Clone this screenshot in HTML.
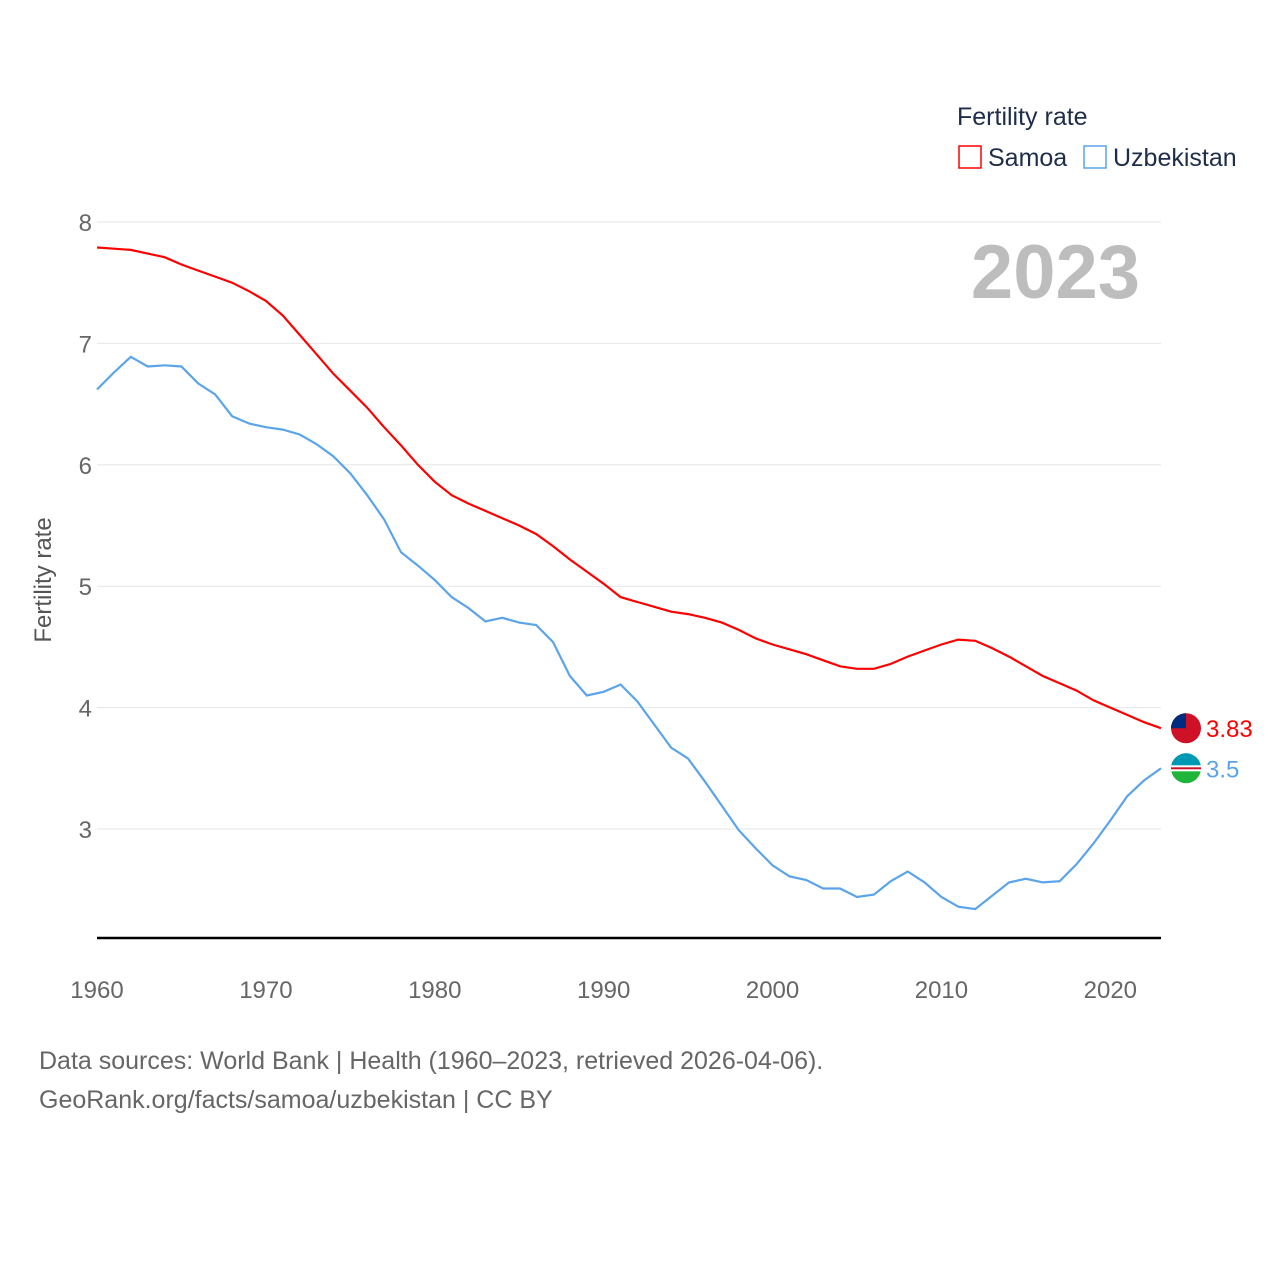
<!DOCTYPE html>
<html><head><meta charset="utf-8"><style>
body{margin:0;background:#fff;font-family:"Liberation Sans",sans-serif;}
svg text{font-family:"Liberation Sans",sans-serif;}
</style></head><body>
<svg id="chart" width="1280" height="1280" viewBox="0 0 1280 1280" xmlns="http://www.w3.org/2000/svg">
<text x="957" y="125" font-size="25" fill="#1e2d4a">Fertility rate</text>
<g><rect x="959" y="146" width="22" height="22" fill="none" stroke="#f00" stroke-width="1.5"/><text x="988" y="166" font-size="25" fill="#1e2d4a">Samoa</text></g>
<g><rect x="1084" y="146" width="22" height="22" fill="none" stroke="#5ba4ea" stroke-width="1.5"/><text x="1113" y="166" font-size="25" fill="#1e2d4a">Uzbekistan</text></g>
<text x="1140" y="298" font-size="76" font-weight="bold" fill="#bdbdbd" text-anchor="end">2023</text>
<text transform="translate(51,580) rotate(-90)" font-size="24" fill="#555" text-anchor="middle">Fertility rate</text>
<g id="grid"></g><g id="lines"></g>
<line x1="97" x2="1161" y1="938" y2="938" stroke="#000" stroke-width="2.5"/>
<text x="39" y="1069" font-size="25" fill="#666">Data sources: World Bank | Health (1960–2023, retrieved 2026-04-06).</text>
<text x="39" y="1108" font-size="25" fill="#666">GeoRank.org/facts/samoa/uzbekistan | CC BY</text>
</svg>
<script>
const years=[];for(let y=1960;y<=2023;y++)years.push(y);
const samoa=[7.79,7.78,7.77,7.74,7.71,7.65,7.6,7.55,7.5,7.43,7.35,7.23,7.07,6.91,6.75,6.61,6.47,6.31,6.16,6.0,5.86,5.75,5.68,5.62,5.56,5.5,5.43,5.33,5.22,5.12,5.02,4.91,4.87,4.83,4.79,4.77,4.74,4.70,4.64,4.57,4.52,4.48,4.44,4.39,4.34,4.32,4.32,4.36,4.42,4.47,4.52,4.56,4.55,4.49,4.42,4.34,4.26,4.20,4.14,4.06,4.00,3.94,3.88,3.83];
const uzbek=[6.62,6.76,6.89,6.81,6.82,6.81,6.67,6.58,6.40,6.34,6.31,6.29,6.25,6.17,6.07,5.93,5.75,5.55,5.28,5.17,5.05,4.91,4.82,4.71,4.74,4.70,4.68,4.54,4.26,4.10,4.13,4.19,4.05,3.86,3.67,3.58,3.39,3.19,2.99,2.84,2.70,2.61,2.58,2.51,2.51,2.44,2.46,2.57,2.65,2.56,2.44,2.36,2.34,2.45,2.56,2.59,2.56,2.57,2.71,2.88,3.07,3.27,3.40,3.50];
const yTicks=[3,4,5,6,7,8];
const xTicks=[1960,1970,1980,1990,2000,2010,2020];
const NS="http://www.w3.org/2000/svg";
const xs=y=>97+(y-1960)*(1161-97)/63;
const ys=v=>222+(8-v)*121.4;
function mk(t,a,p){const e=document.createElementNS(NS,t);for(const k in a)e.setAttribute(k,a[k]);p.appendChild(e);return e;}
const grid=document.getElementById('grid'),lines=document.getElementById('lines'),svg=document.getElementById('chart');
yTicks.forEach(v=>{
 const l=mk('line',{x1:97,x2:1161,y1:ys(v),y2:ys(v),stroke:'#e6e6e6','stroke-width':1},grid);
 
 
 const t=mk('text',{x:92,y:ys(v)+9,'font-size':24,fill:'#666','text-anchor':'end'},grid);t.textContent=v;
 
 
});
xTicks.forEach(y=>{
 const t=mk('text',{x:xs(y),y:998,'font-size':24,fill:'#666','text-anchor':'middle'},grid);t.textContent=y;
 
 
});
function line(data,color,name){
 const d=data.map((v,i)=>(i?'L':'M')+xs(years[i]).toFixed(1)+','+ys(v).toFixed(1)).join('');
 const p=mk('path',{d:d,fill:'none',stroke:color,'stroke-width':2.2},lines);
 
 
}
line(samoa,'#f00','samoa-line');
line(uzbek,'#5ba4ea','uzbekistan-line');
function endLabel(v,color,name,flag){
 const cy=ys(v);
 const g=mk('g',{},svg);
 
 
 if(flag==='ws'){
  mk('circle',{cx:1186,cy:cy,r:15,fill:'#ce1126'},g);
  mk('path',{d:`M1171,${cy} A15,15 0 0 1 ${1186},${cy-15} L1186,${cy} Z`,fill:'#002b7f'},g);
 }else{
  mk('circle',{cx:1186,cy:cy,r:15,fill:'#1eb53a'},g);
  mk('path',{d:`M1171,${cy} A15,15 0 0 1 1201,${cy} Z`,fill:'#0099b5'},g);
  mk('rect',{x:1171,y:cy-3,width:30,height:6,fill:'#fff'},g);
  mk('rect',{x:1171,y:cy-1,width:30,height:2,fill:'#ce1126'},g);
 }
 const t=mk('text',{x:1206,y:cy+9,'font-size':24,fill:color},g);t.textContent=v;
}
endLabel(samoa[samoa.length-1],'#f00','samoa','ws');
endLabel(uzbek[uzbek.length-1],'#5ba4ea','uzbekistan','uz');
</script>
</body></html>
